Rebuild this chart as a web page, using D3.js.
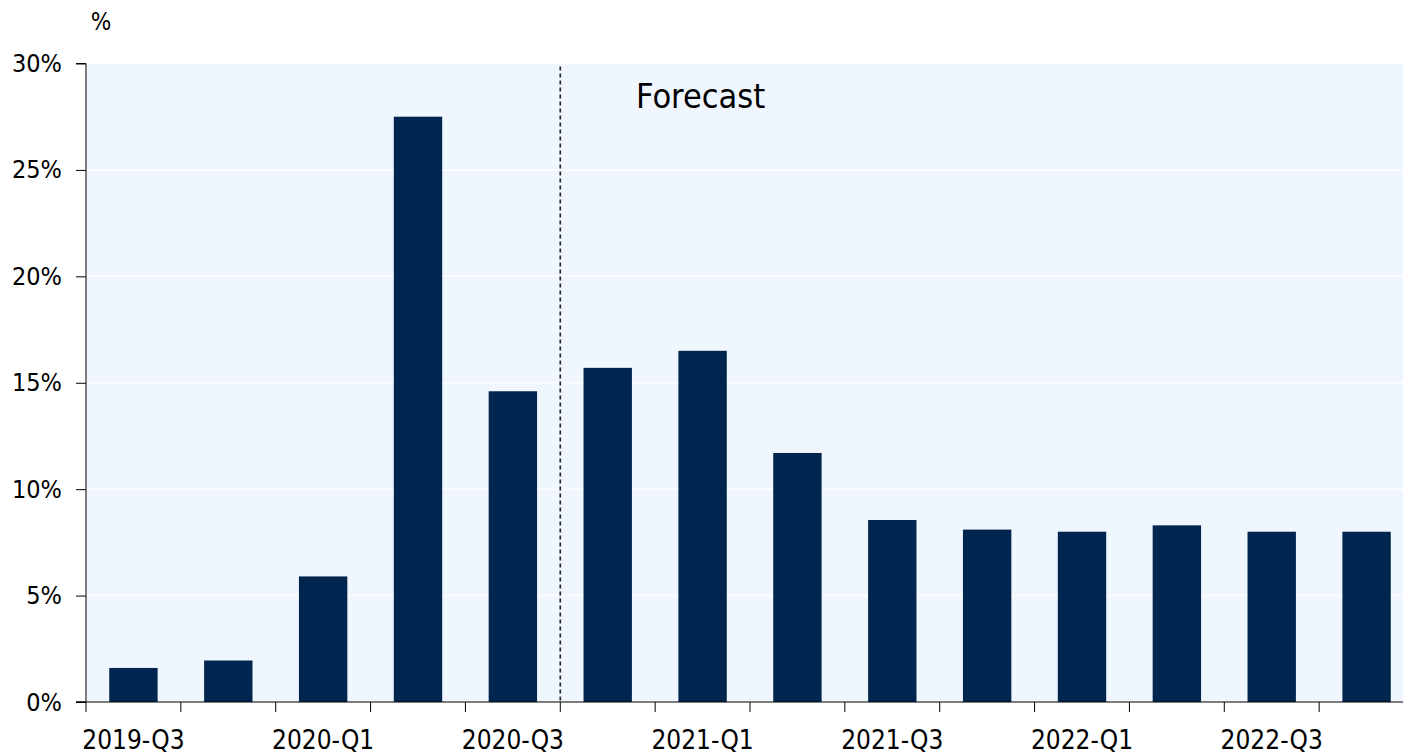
<!DOCTYPE html>
<html><head><meta charset="utf-8">
<script src="https://cdn.jsdelivr.net/npm/d3@7"></script>
<style>body{margin:0;background:#fff}svg{display:block}text{font-family:"DejaVu Sans Condensed","DejaVu Sans",sans-serif;fill:#000}</style>
</head><body>
<svg id="c" width="1403" height="756"></svg>
<script>
const categories = ["2019-Q3","2019-Q4","2020-Q1","2020-Q2","2020-Q3","2020-Q4","2021-Q1","2021-Q2","2021-Q3","2021-Q4","2022-Q1","2022-Q2","2022-Q3","2022-Q4"];
const values = [1.6, 1.95, 5.9, 27.5, 14.6, 15.7, 16.5, 11.7, 8.55, 8.1, 8.0, 8.3, 8.0, 8.0];
const yTicks = [0, 5, 10, 15, 20, 25, 30];
const xLabels = ["2019-Q3","2020-Q1","2020-Q3","2021-Q1","2021-Q3","2022-Q1","2022-Q3"];
const forecastAfter = "2020-Q3";

const svg = d3.select("#c");
const F = "DejaVu Sans Condensed";
const L = 86, R = 1414, T = 63.5, B = 702;
const x = d3.scaleBand().domain(categories).range([L, R]).paddingInner(0.49).paddingOuter(0.245);
const xe = d3.scaleBand().domain(categories).range([L, R]);
const y = d3.scaleLinear().domain([0, 30]).range([B, T]);

svg.append("rect").attr("x", L).attr("y", T).attr("width", R - L).attr("height", B - T).attr("fill", "#eff6fe");

svg.append("g").selectAll("line").data(yTicks.slice(1)).join("line")
  .attr("x1", L).attr("x2", R).attr("y1", d => y(d)).attr("y2", d => y(d))
  .attr("stroke", "#fff").attr("stroke-width", 1.5);

svg.append("g").selectAll("rect").data(values).join("rect")
  .attr("x", (d, i) => x(categories[i])).attr("width", x.bandwidth())
  .attr("y", d => y(d)).attr("height", d => B - y(d)).attr("fill", "#00264f");

const dx = xe(forecastAfter) + xe.bandwidth();
svg.append("line").attr("x1", dx).attr("x2", dx).attr("y1", T + 3).attr("y2", B)
  .attr("stroke", "#2a2a2a").attr("stroke-width", 1.7).attr("stroke-dasharray", "4,3");
svg.append("text").attr("x", 636).attr("y", 108).attr("font-size", 34).text("Forecast");

// y axis
const ya = svg.append("g").attr("transform", `translate(${L},0)`)
  .call(d3.axisLeft(y).tickValues(yTicks).tickFormat(d => d + "%").tickSize(10).tickPadding(14));
ya.select(".domain").attr("stroke", "#000").attr("d", `M-10,${T}H0V${B}H-10`);
ya.selectAll("text").attr("font-size", 25).attr("font-family", F).attr("fill", "#000");
ya.selectAll("line").attr("stroke", "#000");

// x axis
const xa = svg.append("g").attr("transform", `translate(0,${B})`);
xa.append("line").attr("x1", L - 10).attr("x2", R).attr("y1", 0).attr("y2", 0).attr("stroke", "#000");
xa.selectAll(".tk").data(categories).join("line").attr("class", "tk")
  .attr("x1", d => xe(d)).attr("x2", d => xe(d)).attr("y1", 0).attr("y2", 10).attr("stroke", "#000");
xa.selectAll("text").data(xLabels).join("text")
  .attr("x", d => x(d) + x.bandwidth() / 2).attr("y", 47).attr("text-anchor", "middle")
  .attr("font-size", 26).text(d => d);

svg.append("text").attr("x", 101).attr("y", 30).attr("text-anchor", "middle").attr("font-size", 24).text("%");
</script>
</body></html>
